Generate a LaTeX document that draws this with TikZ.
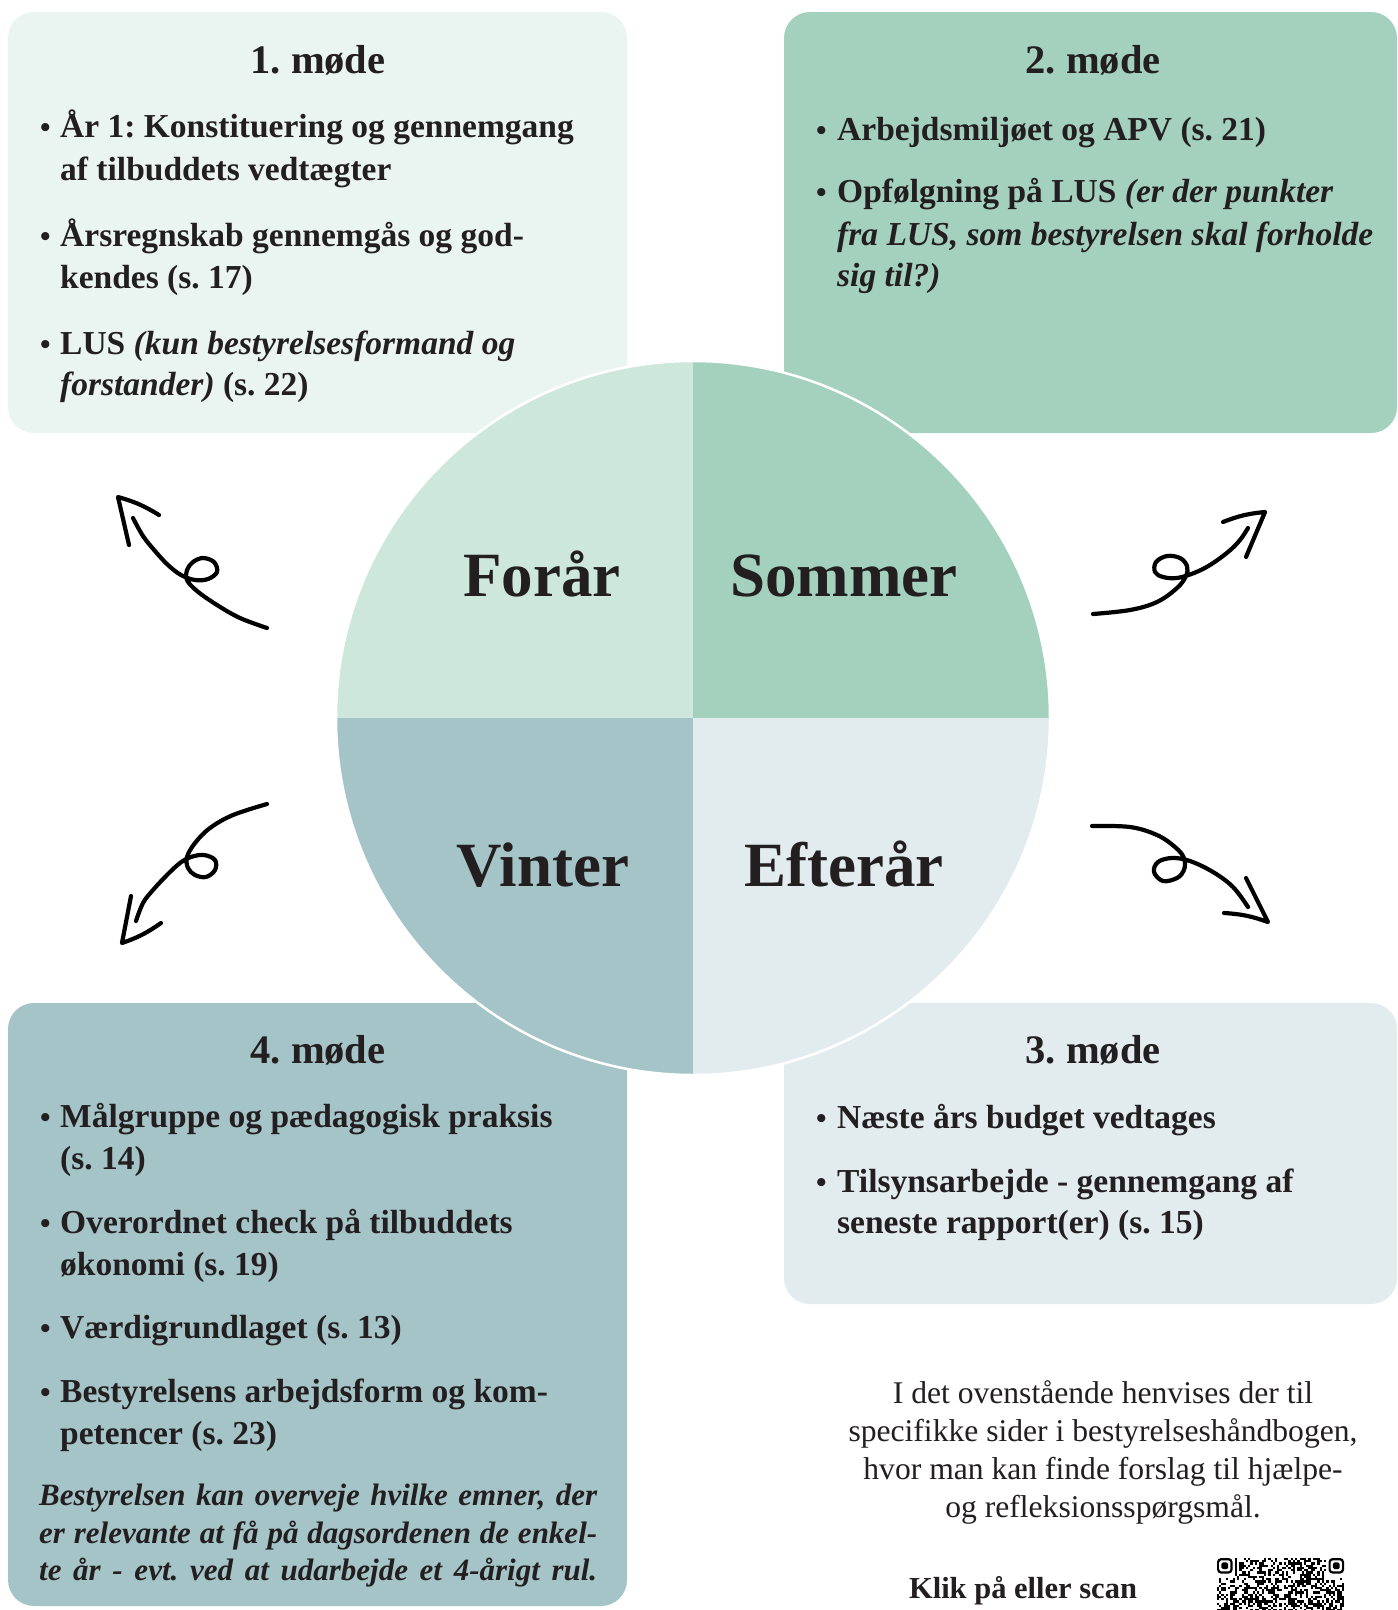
\documentclass[tikz,border=0pt]{standalone}
\usepackage{fontspec}
\setmainfont{Liberation Serif}
\frenchspacing
\definecolor{ink}{HTML}{231F20}
\definecolor{boxA}{HTML}{EAF5F1}
\definecolor{forar}{HTML}{CDE7DD}
\definecolor{sommer}{HTML}{A4D1BE}
\definecolor{vinter}{HTML}{A5C4C8}
\definecolor{efteraar}{HTML}{E2ECEF}
\newcommand{\Ln}[4]{\node[tx] (#1) at (#2,#3) {#4};}
\newcommand{\Bu}[3]{\node[bul] (#1) at (#2,#3) {\textbullet};}
\begin{document}
\begin{tikzpicture}[x=1pt,y=-1pt,
  card/.style={rounded corners=26pt},
  tx/.style={anchor=base west, inner sep=0pt, text=ink, font=\fontsize{33.5}{40}\selectfont\bfseries},
  bul/.style={anchor=base west, inner sep=0pt, text=ink, font=\fontsize{30}{40}\selectfont\bfseries},
  ttl/.style={anchor=base, inner sep=0pt, text=ink, font=\fontsize{40.5}{48}\selectfont\bfseries},
  season/.style={anchor=base, inner sep=0pt, text=ink, font=\fontsize{63}{70}\selectfont\bfseries},
  itx/.style={anchor=base west, inner sep=0pt, text=ink, font=\fontsize{31}{38}\selectfont\bfseries\itshape},
  note/.style={anchor=base, inner sep=0pt, text=ink, font=\fontsize{31.6}{36}\selectfont},
  curl/.style={draw=black, line width=4.2pt, line cap=round, line join=round}
]
\useasboundingbox (0,0) rectangle (1398,1610);
\clip (0,0) rectangle (1398,1610);
\fill[white] (0,0) rectangle (1398,1610);

% cards
\fill[boxA, card] (8,12) rectangle (627,433);
\fill[sommer, card] (784,12) rectangle (1397,433);
\fill[efteraar, card] (784,1003) rectangle (1397,1304);
\fill[vinter, card] (8,1003) rectangle (627,1606);

% season wheel
\begin{scope}
  \clip (693,718) circle[radius=357];
  \fill[forar] (330,355) rectangle (693,718);
  \fill[sommer] (693,355) rectangle (1056,718);
  \fill[vinter] (330,718) rectangle (693,1081);
  \fill[efteraar] (693,718) rectangle (1056,1081);
\end{scope}
\draw[white, line width=2.5pt] (693,718) circle[radius=357];
\coordinate (hub) at (693,718);

\node[season] (forår) at (542,596) {Forår};
\node[season] (sommer) at (844,596) {Sommer};
\node[season] (vinter) at (543,886) {Vinter};
\node[season] (efterår) at (844,886) {Efterår};

% card 1
\node[ttl] (t1) at (318,73) {1. møde};
\Bu{b1a}{40}{137}\Ln{l1a}{60}{137}{År 1: Konstituering og gennemgang}
\Ln{l1b}{60}{180}{af tilbuddets vedtægter}
\Bu{b1b}{40}{246}\Ln{l1c}{60}{246}{Årsregnskab gennemgås og god-}
\Ln{l1d}{60}{288}{kendes (s. 17)}
\Bu{b1c}{40}{354}\Ln{l1e}{60}{354}{LUS \textit{(kun bestyrelsesformand og}}
\Ln{l1f}{60}{395}{\textit{forstander)} (s. 22)}

% card 2
\node[ttl] (t2) at (1093,73) {2. møde};
\Bu{b2a}{816}{140}\Ln{l2a}{837}{140}{Arbejdsmiljøet og APV (s. 21)}
\Bu{b2b}{816}{202}\Ln{l2b}{837}{202}{Opfølgning på LUS \textit{(er der punkter}}
\Ln{l2c}{837}{245}{\textit{fra LUS, som bestyrelsen skal forholde}}
\Ln{l2d}{837}{286}{\textit{sig til?)}}

% card 3
\node[ttl] (t3) at (1093,1063) {3. møde};
\Bu{b3a}{816}{1128}\Ln{l3a}{837}{1128}{Næste års budget vedtages}
\Bu{b3b}{816}{1192}\Ln{l3b}{837}{1192}{Tilsynsarbejde - gennemgang af}
\Ln{l3c}{837}{1233}{seneste rapport(er) (s. 15)}

% card 4
\node[ttl] (t4) at (318,1063) {4. møde};
\Bu{b4a}{40}{1127}\Ln{l4a}{60}{1127}{Målgruppe og pædagogisk praksis}
\Ln{l4b}{60}{1169}{(s. 14)}
\Bu{b4b}{40}{1233}\Ln{l4c}{60}{1233}{Overordnet check på tilbuddets}
\Ln{l4d}{60}{1275}{økonomi (s. 19)}
\Bu{b4c}{40}{1338}\Ln{l4e}{60}{1338}{Værdigrundlaget (s. 13)}
\Bu{b4d}{40}{1402}\Ln{l4f}{60}{1402}{Bestyrelsens arbejdsform og kom-}
\Ln{l4g}{60}{1444}{petencer (s. 23)}
\node[itx] (i4a) at (39,1505) {\makebox[558pt][s]{Bestyrelsen kan overveje hvilke emner, der}};
\node[itx] (i4b) at (39,1543) {\makebox[558pt][s]{er relevante at få på dagsordenen de enkel-}};
\node[itx] (i4c) at (39,1580) {\makebox[558pt][s]{te år - evt. ved at udarbejde et 4-årigt rul.}};

% note
\node[note] (n1) at (1103,1403) {I det ovenstående henvises der til};
\node[note] (n2) at (1103,1441) {specifikke sider i bestyrelseshåndbogen,};
\node[note] (n3) at (1103,1479) {hvor man kan finde forslag til hjælpe-};
\node[note] (n4) at (1103,1517) {og refleksionsspørgsmål.};
\node[note, font=\fontsize{30.5}{36}\selectfont\bfseries] (klik) at (1023,1598) {Klik på eller scan};

% QR code (decorative, only its top part lies on the page)
\pgfmathsetseed{4711}
\foreach \i in {0,...,56}{
  \foreach \j in {0,...,23}{
    \pgfmathtruncatemacro{\on}{rnd<0.5?1:0}
    \ifnum\on=1 \fill[black] (1217+\i*2.23,1558+\j*2.23) rectangle ++(2.23,2.23);\fi
  }
}
\foreach \fx in {0,50}{
  \fill[white] (1217+\fx*2.23-2.23,1556) rectangle ++(9*2.23,9*2.23+2);
  \fill[black, rounded corners=4pt] (1217+\fx*2.23,1558) rectangle ++(7*2.23,7*2.23);
  \fill[white, rounded corners=2.5pt] (1217+\fx*2.23+2.23,1558+2.23) rectangle ++(5*2.23,5*2.23);
  \fill[black, rounded corners=1.5pt] (1217+\fx*2.23+4.46,1558+4.46) rectangle ++(3*2.23,3*2.23);
}

% curly arrows
\draw[curl] plot[smooth, tension=0.6] coordinates {(267,628) (240,618) (217,605) (197,591) (187,580) (187,570) (193,562) (203,558) (214,562) (217,572) (208,579) (195,580) (181,575) (168,565) (155,551) (143,536) (133,518)};
\coordinate (tlA) at (129,545); \coordinate (tlT) at (118,497); \coordinate (tlB) at (159,515);
\draw[curl] (tlA) -- (tlT) to[bend left=8] (tlB);

\draw[curl] plot[smooth, tension=0.6] coordinates {(1093,614) (1130,610) (1157,602) (1177,588) (1186,576) (1187,566) (1180,558) (1167,556) (1156,562) (1155,572) (1163,577) (1177,578) (1194,573) (1210,565) (1228,552) (1240,540) (1248,528)};
\coordinate (trA) at (1223,522); \coordinate (trT) at (1265,512); \coordinate (trB) at (1246,557);
\draw[curl] (trA) to[bend left=8] (trT) -- (trB);

\draw[curl] plot[smooth, tension=0.6] coordinates {(267,804) (233,815) (210,828) (195,843) (187,857) (188,868) (195,875) (206,877) (215,870) (215,860) (204,855) (191,857) (180,863) (167,875) (153,890) (143,903) (136,921)};
\coordinate (blA) at (131,896); \coordinate (blT) at (122,943); \coordinate (blB) at (161,923);
\draw[curl] (blA) -- (blT) to[bend right=8] (blB);

\draw[curl] plot[smooth, tension=0.6] coordinates {(1092,826) (1130,827) (1157,835) (1175,847) (1184,858) (1184,870) (1177,878) (1163,881) (1154,872) (1158,862) (1172,858) (1190,861) (1213,872) (1233,887) (1248,907)};
\coordinate (brA) at (1246,878); \coordinate (brT) at (1268,922); \coordinate (brB) at (1224,913);
\draw[curl] (brA) -- (brT) to[bend right=8] (brB);
\end{tikzpicture}
\end{document}
